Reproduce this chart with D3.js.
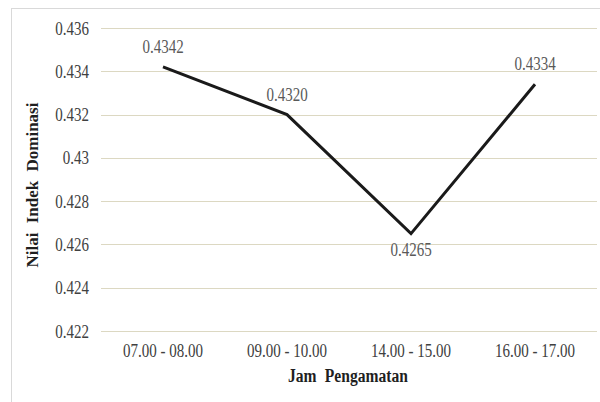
<!DOCTYPE html>
<html><head><meta charset="utf-8">
<script src="https://cdn.jsdelivr.net/npm/d3@7"></script>
<style>body{margin:0;background:#fff}svg{display:block}</style>
</head><body><svg id="c" width="600" height="402"></svg>
<script>
const categories = ["07.00 - 08.00", "09.00 - 10.00", "14.00 - 15.00", "16.00 - 17.00"];
const values = [0.4342, 0.4320, 0.4265, 0.4334];
const labels = ["0.4342", "0.4320", "0.4265", "0.4334"];
const yTicks = [0.422, 0.424, 0.426, 0.428, 0.43, 0.432, 0.434, 0.436];
const yTickLabels = ["0.422", "0.424", "0.426", "0.428", "0.43", "0.432", "0.434", "0.436"];

const svg = d3.select("#c");
const font = "Liberation Serif";
// text drawn taller than wide, like the reference
function tall(sel, base, big) {
  sel.attr("font-family", font).attr("font-size", base).each(function () {
    const L = this.getComputedTextLength();
    d3.select(this).attr("font-size", big).attr("textLength", L).attr("lengthAdjust", "spacingAndGlyphs");
  });
}

svg.append("rect").attr("x", 11.5).attr("y", 8.5).attr("width", 600).attr("height", 400)
  .attr("fill", "none").attr("stroke", "#d9d9d9");

const m = {l: 101, r: 597, t: 28, b: 331};
const x = d3.scaleBand().domain(categories).range([m.l, m.r]);
const y = d3.scaleLinear().domain([0.422, 0.436]).range([m.b, m.t]);

svg.append("g").selectAll("line").data(yTicks).join("line")
  .attr("x1", m.l).attr("x2", m.r)
  .attr("y1", d => Math.round(y(d)) + 0.5).attr("y2", d => Math.round(y(d)) + 0.5)
  .attr("stroke", "#dcd8c2").attr("stroke-width", 1);

const yAxis = d3.axisLeft(y).tickValues(yTicks).tickFormat((d, i) => yTickLabels[i]).tickSize(0).tickPadding(12);
const ya = svg.append("g").attr("transform", `translate(${m.l},0)`).call(yAxis);
ya.select(".domain").remove();
ya.selectAll("text").attr("fill", "#404040").attr("dy", "0.34em");
tall(ya.selectAll("text"), 15, 18);

const xAxis = d3.axisBottom(x).tickSize(0).tickPadding(13);
const xa = svg.append("g").attr("transform", `translate(0,${m.b})`).call(xAxis);
xa.select(".domain").remove();
xa.selectAll("text").attr("fill", "#404040");
tall(xa.selectAll("text"), 15, 18);

const pts = categories.map((c, i) => [x(c) + x.bandwidth() / 2, y(values[i])]);
svg.append("path").attr("d", d3.line()(pts)).attr("fill", "none")
  .attr("stroke", "#1a1a1a").attr("stroke-width", 3).attr("stroke-linejoin", "miter");

const lbl = svg.selectAll("text.lbl").data(pts).join("text").attr("class", "lbl")
  .attr("x", d => d[0]).attr("y", (d, i) => i === 2 ? d[1] + 22 : d[1] - 14)
  .attr("text-anchor", "middle").attr("fill", "#595959").text((d, i) => labels[i]);
tall(lbl, 15, 18);

svg.append("text").attr("transform", `translate(38,185) rotate(-90)`)
  .attr("text-anchor", "middle").attr("font-weight", "bold").attr("fill", "#1f1f1f")
  .attr("font-family", font).attr("font-size", 17).attr("word-spacing", 5)
  .text("Nilai Indek Dominasi");
svg.append("text").attr("x", 348).attr("y", 382)
  .attr("text-anchor", "middle").attr("font-weight", "bold").attr("fill", "#1f1f1f")
  .attr("font-family", font).attr("font-size", 18).attr("word-spacing", 5)
  .attr("textLength", 120).attr("lengthAdjust", "spacingAndGlyphs")
  .text("Jam Pengamatan");
</script></body></html>
